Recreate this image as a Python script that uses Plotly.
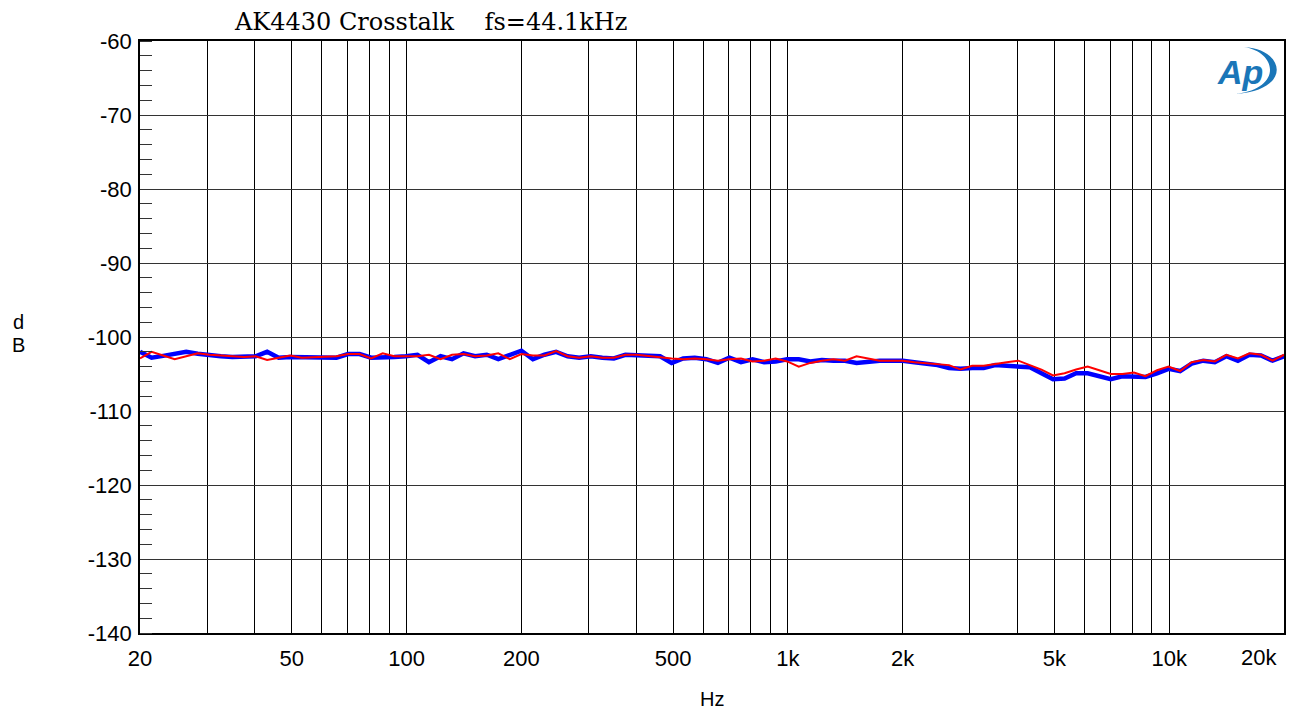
import plotly.graph_objects as go
import math

# Frequencies of the sweep (Hz), ~1/10-octave steps from 20 Hz to 20 kHz
freq = [20.0, 21.45, 23.0, 24.66, 26.44, 28.35, 30.4, 32.6, 34.95, 37.48,
        40.19, 43.09, 46.21, 49.55, 53.13, 56.97, 61.09, 65.5, 70.24, 75.31,
        80.76, 86.6, 92.85, 99.56, 106.8, 114.5, 122.8, 131.6, 141.1, 151.3,
        162.3, 174.0, 186.6, 200.1, 214.5, 230.0, 246.7, 264.5, 283.6, 304.1,
        326.1, 349.7, 374.9, 402.0, 431.1, 462.3, 495.7, 531.5, 569.9, 611.1,
        655.3, 702.6, 753.4, 807.9, 866.3, 928.9, 996.0, 1068, 1145, 1228,
        1317, 1412, 1514, 1623, 1741, 1866, 2001, 2146, 2301, 2467,
        2646, 2837, 3042, 3262, 3497, 3750, 4021, 4312, 4624, 4958,
        5316, 5700, 6112, 6554, 7028, 7536, 8080, 8664, 9291, 9962,
        10682, 11454, 12282, 13170, 14122, 15143, 16237, 17411, 18669, 20000]

# Blue channel crosstalk (dB)
blue_db = [-102.0, -102.8, -102.55, -102.3, -102.0, -102.25, -102.5, -102.6, -102.7, -102.65,
           -102.6, -102.0, -102.8, -102.7, -102.7, -102.65, -102.75, -102.8, -102.3, -102.3,
           -102.8, -102.8, -102.7, -102.6, -102.4, -103.4, -102.6, -103.0, -102.2, -102.6,
           -102.4, -103.0, -102.5, -101.85, -103.0, -102.4, -102.0, -102.6, -102.8, -102.6,
           -102.8, -102.9, -102.4, -102.5, -102.6, -102.6, -103.5, -102.9, -102.8, -103.0,
           -103.5, -102.8, -103.4, -103.0, -103.4, -103.3, -103.0, -103.0, -103.3, -103.1,
           -103.2, -103.2, -103.5, -103.3, -103.2, -103.2, -103.2, -103.4, -103.6, -103.8,
           -104.2, -104.3, -104.2, -104.2, -103.8, -103.9, -104.0, -104.1, -104.9, -105.7,
           -105.6, -104.9, -104.9, -105.3, -105.7, -105.3, -105.3, -105.4, -104.9, -104.3,
           -104.6, -103.6, -103.2, -103.4, -102.6, -103.2, -102.4, -102.5, -103.2, -102.6]

# Red channel crosstalk (dB)
red_db = [-102.9, -102.0, -102.5, -103.0, -102.6, -102.2, -102.4, -102.5, -102.6, -102.7,
          -102.6, -103.1, -102.8, -102.5, -102.8, -102.7, -102.6, -102.6, -102.3, -102.3,
          -102.9, -102.2, -102.6, -102.6, -102.6, -102.4, -103.0, -102.4, -102.3, -102.6,
          -102.5, -102.2, -103.0, -102.3, -102.5, -102.5, -101.9, -102.6, -102.8, -102.6,
          -102.8, -102.8, -102.4, -102.4, -102.6, -102.8, -102.9, -103.0, -102.9, -103.0,
          -103.2, -103.0, -102.9, -103.3, -103.2, -102.9, -103.3, -104.0, -103.5, -103.2,
          -103.0, -103.2, -102.6, -102.9, -103.2, -103.2, -103.2, -103.4, -103.5, -103.6,
          -103.8, -104.4, -103.9, -103.9, -103.6, -103.4, -103.2, -103.8, -104.4, -105.2,
          -104.9, -104.4, -104.0, -104.5, -105.0, -105.0, -104.8, -105.3, -104.5, -104.0,
          -104.6, -103.4, -103.1, -103.3, -102.4, -102.9, -102.2, -102.4, -103.2, -102.4]

# X-axis grid positions and labels
x_tickvals = [20, 30, 40, 50, 60, 70, 80, 90,
              100, 200, 300, 400, 500, 600, 700, 800, 900,
              1000, 2000, 3000, 4000, 5000, 6000, 7000, 8000, 9000,
              10000, 20000]
x_ticktext = ["20", "", "", "50", "", "", "", "",
              "100", "200", "", "", "500", "", "", "", "",
              "1k", "2k", "", "", "5k", "", "", "", "",
              "10k", ""]
last_label = "20k"

y_tickvals = [-60, -70, -80, -90, -100, -110, -120, -130, -140]
y_ticktext = ["-60", "-70", "-80", "-90", "-100", "-110", "-120", "-130", "-140"]

title_text = "AK4430 Crosstalk\u00a0\u00a0\u00a0\u00a0fs=44.1kHz"

fig = go.Figure()
fig.add_trace(go.Scatter(x=freq, y=blue_db, mode="lines",
                         line=dict(color="#0000ff", width=4.5), name="Ch A",
                         showlegend=False))
fig.add_trace(go.Scatter(x=freq, y=red_db, mode="lines",
                         line=dict(color="#ff0000", width=2), name="Ch B",
                         showlegend=False))

tickfont = dict(family="Liberation Sans, Arial, sans-serif", size=22, color="black")
labelfont = dict(family="Liberation Sans, Arial, sans-serif", size=20, color="black")

fig.update_layout(
    width=1299, height=713,
    margin=dict(l=140, r=15, t=41, b=80),
    paper_bgcolor="white", plot_bgcolor="white",
    showlegend=False,
    xaxis=dict(type="log", range=[math.log10(20), math.log10(20000)],
               tickmode="array", tickvals=x_tickvals, ticktext=x_ticktext,
               showgrid=True, gridcolor="#000", gridwidth=1,
               ticks="", tickfont=tickfont, ticklabelstandoff=5,
               showline=True, linecolor="black", linewidth=1.5, mirror=True,
               zeroline=False),
    yaxis=dict(range=[-140, -60], tickmode="array", tickvals=y_tickvals,
               ticktext=y_ticktext,
               showgrid=True, gridcolor="#333", gridwidth=1,
               ticks="", tickfont=tickfont, ticklabelstandoff=2,
               minor=dict(dtick=2, tick0=-140, ticks="inside", ticklen=12,
                          tickcolor="#333", tickwidth=1, showgrid=False),
               showline=True, linecolor="black", linewidth=1.5, mirror=True,
               zeroline=False),
)

annotations = [
    dict(text=title_text, xref="paper", yref="paper", x=(232 - 140) / 1144,
         y=(633 - 22) / 592, xanchor="left", yanchor="middle", showarrow=False,
         font=dict(family="DejaVu Serif, serif", size=24, color="black")),
    dict(text=last_label, xref="x", yref="paper", x=math.log10(20000),
         y=(633 - 657) / 592, xanchor="right", yanchor="middle", xshift=-5,
         showarrow=False, font=tickfont),
    dict(text="Hz", xref="paper", yref="paper", x=0.5, y=(633 - 699) / 592,
         xanchor="center", yanchor="middle", showarrow=False, font=labelfont),
    dict(text="d", xref="paper", yref="paper", x=(18 - 140) / 1144,
         y=(633 - 322) / 592, xanchor="center", yanchor="middle", showarrow=False,
         font=labelfont),
    dict(text="B", xref="paper", yref="paper", x=(18 - 140) / 1144,
         y=(633 - 345) / 592, xanchor="center", yanchor="middle", showarrow=False,
         font=labelfont),
    dict(text="<b><i>Ap</i></b>", xref="paper", yref="paper",
         x=(1240 - 140) / 1144, y=(633 - 72) / 592, xanchor="center", yanchor="middle",
         showarrow=False,
         font=dict(family="Liberation Sans, Arial, sans-serif", size=34, color="#1a76b8")),
]
fig.update_layout(annotations=annotations)


def px(xp, yp):
    return f"{(xp - 140) / 1144:.5f},{(633 - yp) / 592:.5f}"


logo_path = ("M " + px(1244, 47) + " C " + px(1285, 49) + " " + px(1293, 90) + " " + px(1236, 94)
             + " C " + px(1283, 88) + " " + px(1277, 52) + " " + px(1244, 47) + " Z")
fig.add_shape(type="path", path=logo_path, xref="paper", yref="paper",
              fillcolor="#1a76b8", line=dict(width=0), layer="above")

fig.write_html("out.html", config={"displayModeBar": False},
               post_script="document.body.style.margin='0px';document.body.style.padding='0px';")
